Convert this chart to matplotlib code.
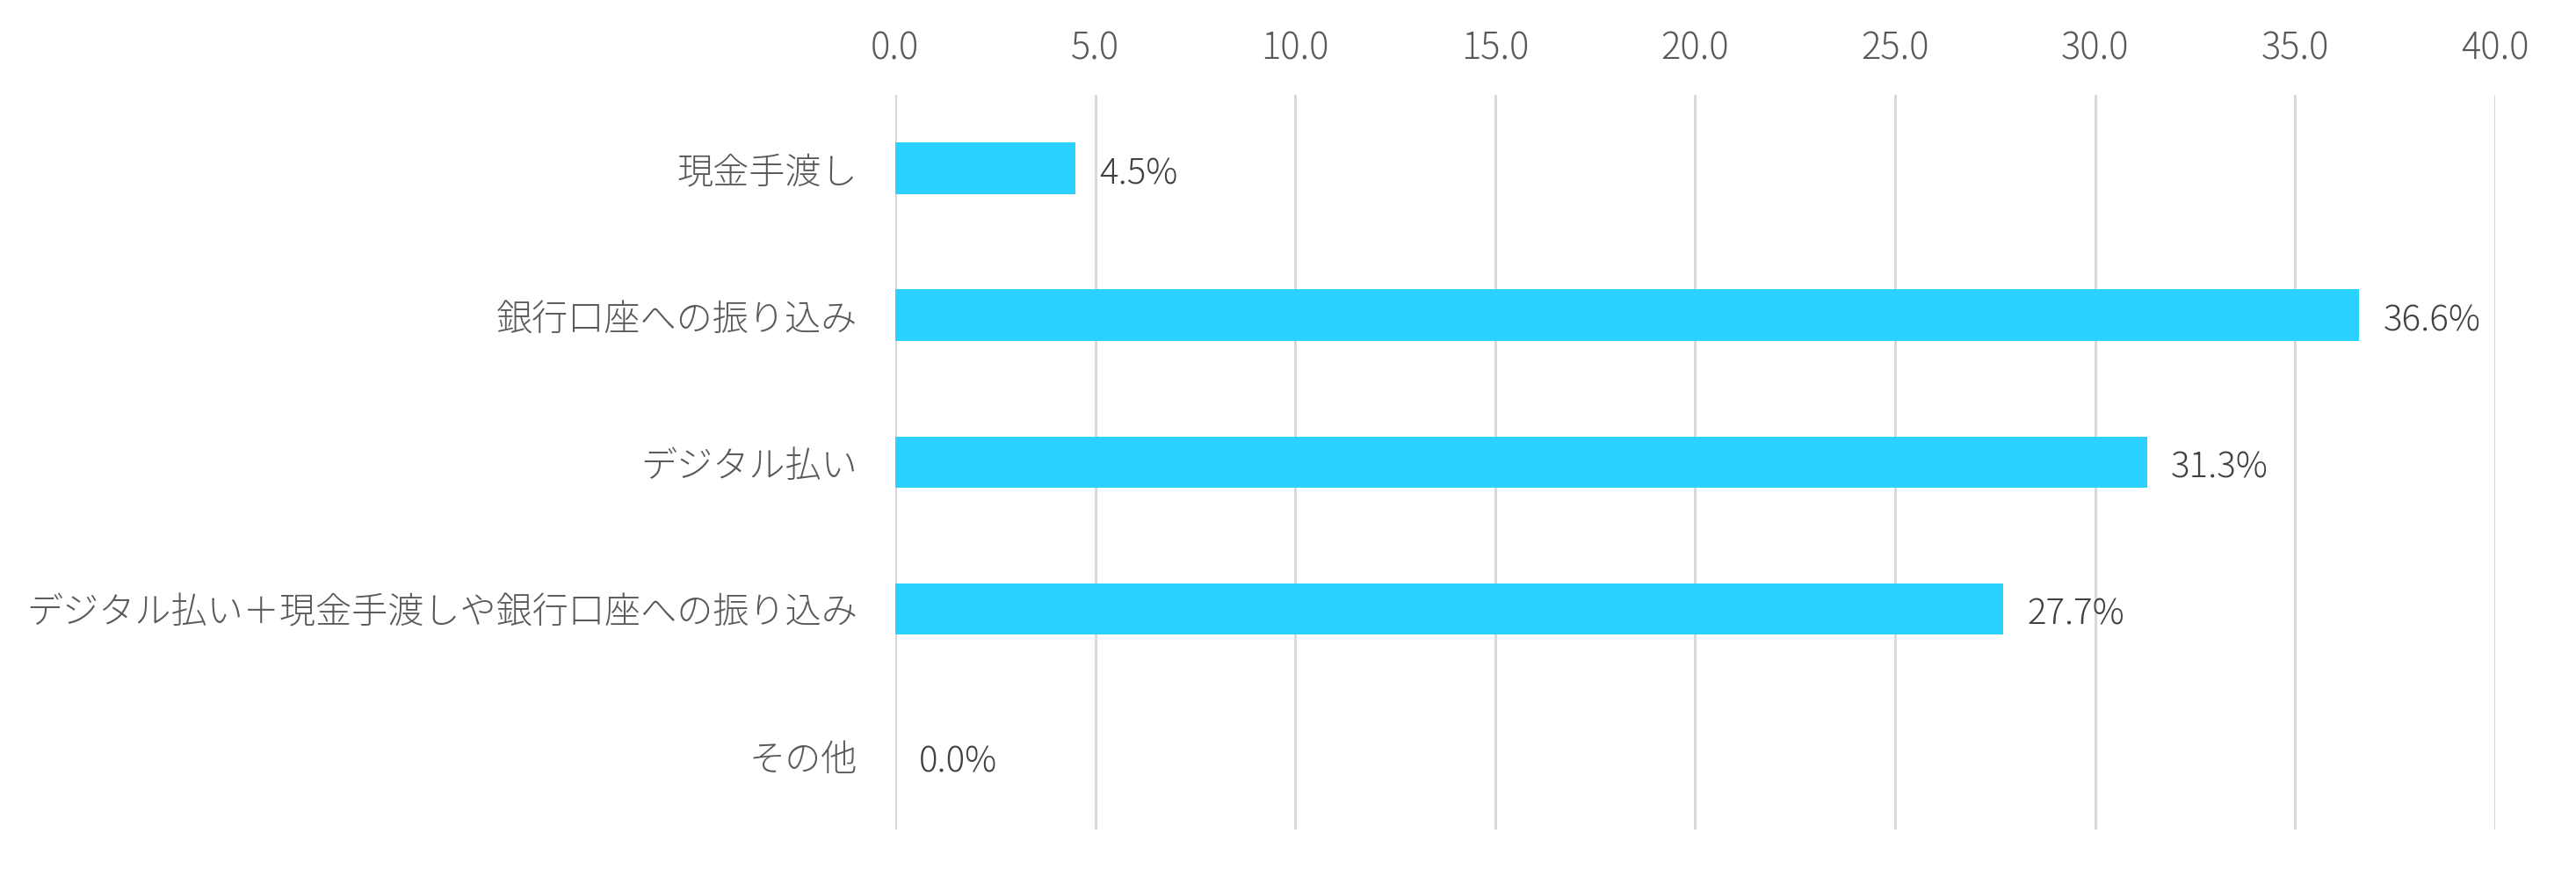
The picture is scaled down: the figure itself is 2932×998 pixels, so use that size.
import matplotlib
matplotlib.use("Agg")
import matplotlib.pyplot as plt

plt.rcParams['font.family'] = ['Noto Sans CJK JP', 'DejaVu Sans']
plt.rcParams['font.weight'] = 'light'

categories = ["現金手渡し", "銀行口座への振り込み", "デジタル払い",
              "デジタル払い＋現金手渡しや銀行口座への振り込み", "その他"]
values = [4.5, 36.6, 31.3, 27.7, 0.0]
xticks = [0, 5, 10, 15, 20, 25, 30, 35, 40]

bar_color = "#2BD2FF"
text_color = "#595959"

fig = plt.figure(figsize=(29.32, 9.98), dpi=100)
ax = fig.add_axes([0.3475, 0.054, 0.6211, 0.838])

y = list(range(len(categories)))
ax.barh(y, values, height=0.35, color=bar_color, zorder=2)

# value labels next to each bar
for yi, v in zip(y, values):
    ax.text(v + 0.6, yi + 0.04, f"{v:.1f}%", va="center", ha="left",
            fontsize=29, color="#404040", zorder=3)

ax.set_ylim(len(categories) - 0.5, -0.5)
ax.set_xlim(0, 40)
ax.set_xticks(xticks)
ax.set_xticklabels([f"{t:.1f}" for t in xticks])
ax.xaxis.tick_top()
ax.set_yticks(y)
ax.set_yticklabels(categories)

ax.tick_params(axis="x", length=0, pad=22, labelsize=30, labelcolor=text_color)
ax.tick_params(axis="y", length=0, pad=31, labelsize=29.6, labelcolor=text_color)

ax.grid(axis="x", color="#D9D9D9", linewidth=2.2, zorder=0)
ax.set_axisbelow(True)
for s in ax.spines.values():
    s.set_visible(False)

fig.savefig("out.png", dpi=100)
